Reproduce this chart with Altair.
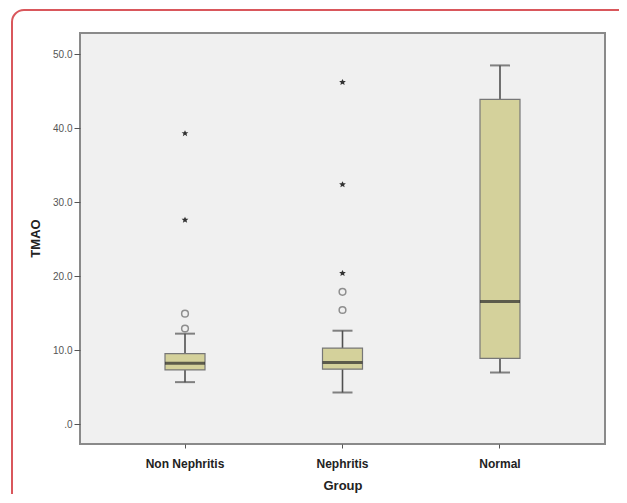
import altair as alt
import pandas as pd

# ---- data ----
groups = ["Non Nephritis", "Nephritis", "Normal"]
whisker_low = [5.7, 4.3, 7.0]
q1 = [7.35, 7.45, 8.9]
median = [8.25, 8.35, 16.6]
q3 = [9.55, 10.3, 43.9]
whisker_high = [12.25, 12.65, 48.5]

outlier_group = ["Non Nephritis", "Non Nephritis", "Nephritis", "Nephritis"]
outlier_value = [12.95, 14.95, 15.45, 17.9]

extreme_group = ["Non Nephritis", "Non Nephritis", "Nephritis", "Nephritis", "Nephritis"]
extreme_value = [27.6, 39.3, 20.4, 32.4, 46.2]

box_df = pd.DataFrame({
    "group": groups, "lo": whisker_low, "q1": q1, "med": median,
    "q3": q3, "hi": whisker_high,
})
out_df = pd.DataFrame({"group": outlier_group, "value": outlier_value})
ext_df = pd.DataFrame({"group": extreme_group, "value": extreme_value})

FONT = "Liberation Sans"

x_enc = alt.X(
    "group:N", sort=groups, title="Group",
    scale=alt.Scale(paddingInner=0, paddingOuter=0.1667),
    axis=alt.Axis(
        labelAngle=0, labelFontSize=12, labelFontWeight="bold", labelColor="#222",
        labelFont=FONT, labelPadding=10, tickSize=4, tickColor="#555", tickWidth=1,
        domain=False, titleFont=FONT, titleFontSize=13, titleFontWeight="bold",
        titleColor="#222", titleY=35, titleBaseline="top",
    ),
)
y_scale = alt.Scale(domain=[-2.66, 52.88], nice=False, zero=False)
y_axis = alt.Axis(
    values=[0, 10, 20, 30, 40, 50],
    labelExpr="datum.value == 0 ? '.0' : format(datum.value, '.1f')",
    labelFontSize=10, labelColor="#555", labelFont=FONT, labelPadding=2,
    tickSize=6, tickColor="#555", tickWidth=1, domain=False, grid=False,
    title="TMAO", titleFont=FONT, titleFontSize=13, titleFontWeight="bold",
    titleColor="#222", titleAngle=270, titleX=-45, titleY=205,
    titleBaseline="middle", titleAlign="center",
)

base = alt.Chart(box_df)

whisker = base.mark_rule(color="#505050", strokeWidth=1.6).encode(
    x=x_enc, y=alt.Y("lo:Q", scale=y_scale, axis=y_axis), y2="hi:Q"
)
box = base.mark_bar(size=40, fill="#d4d19b", stroke="#777", strokeWidth=1.2).encode(
    x=x_enc, y=alt.Y("q1:Q", scale=y_scale), y2="q3:Q"
)
med = base.mark_tick(size=40, thickness=3, color="#2a2a2a").encode(
    x=x_enc, y=alt.Y("med:Q", scale=y_scale)
)
cap_lo = base.mark_tick(size=20, thickness=2, color="#505050").encode(
    x=x_enc, y=alt.Y("lo:Q", scale=y_scale)
)
cap_hi = base.mark_tick(size=20, thickness=2, color="#505050").encode(
    x=x_enc, y=alt.Y("hi:Q", scale=y_scale)
)
outliers = alt.Chart(out_df).mark_point(
    shape="circle", size=45, filled=False, color="#666", strokeWidth=1.5
).encode(x=x_enc, y=alt.Y("value:Q", scale=y_scale))
extremes = alt.Chart(ext_df).mark_point(
    shape="M0,-1L0.3,-0.4L1,-0.4L0.45,0.1L0.65,0.8L0,0.4L-0.65,0.8L-0.45,0.1L-1,-0.4L-0.3,-0.4Z",
    size=45, filled=True, color="#333", opacity=1
).encode(x=x_enc, y=alt.Y("value:Q", scale=y_scale))

border = alt.Chart(alt.Data(values=[{"k": 1}])).mark_rect(
    fill=None, stroke="#d9575c", strokeWidth=2, cornerRadius=12, clip=False
).encode(
    x=alt.value(-68), x2=alt.value(565), y=alt.value(-23), y2=alt.value(475)
)

chart = alt.layer(
    whisker, box, med, cap_lo, cap_hi, outliers, extremes, border
).properties(
    width=525, height=411,
    autosize=alt.AutoSizeParams(type="none"),
    padding={"left": 72, "top": 25, "right": 14, "bottom": 50},
    background="white",
).configure_view(
    fill="#f0f0f0", stroke="#8a8a8a", strokeWidth=2
)

chart.save("out.html", embed_options={"renderer": "svg", "actions": False})
